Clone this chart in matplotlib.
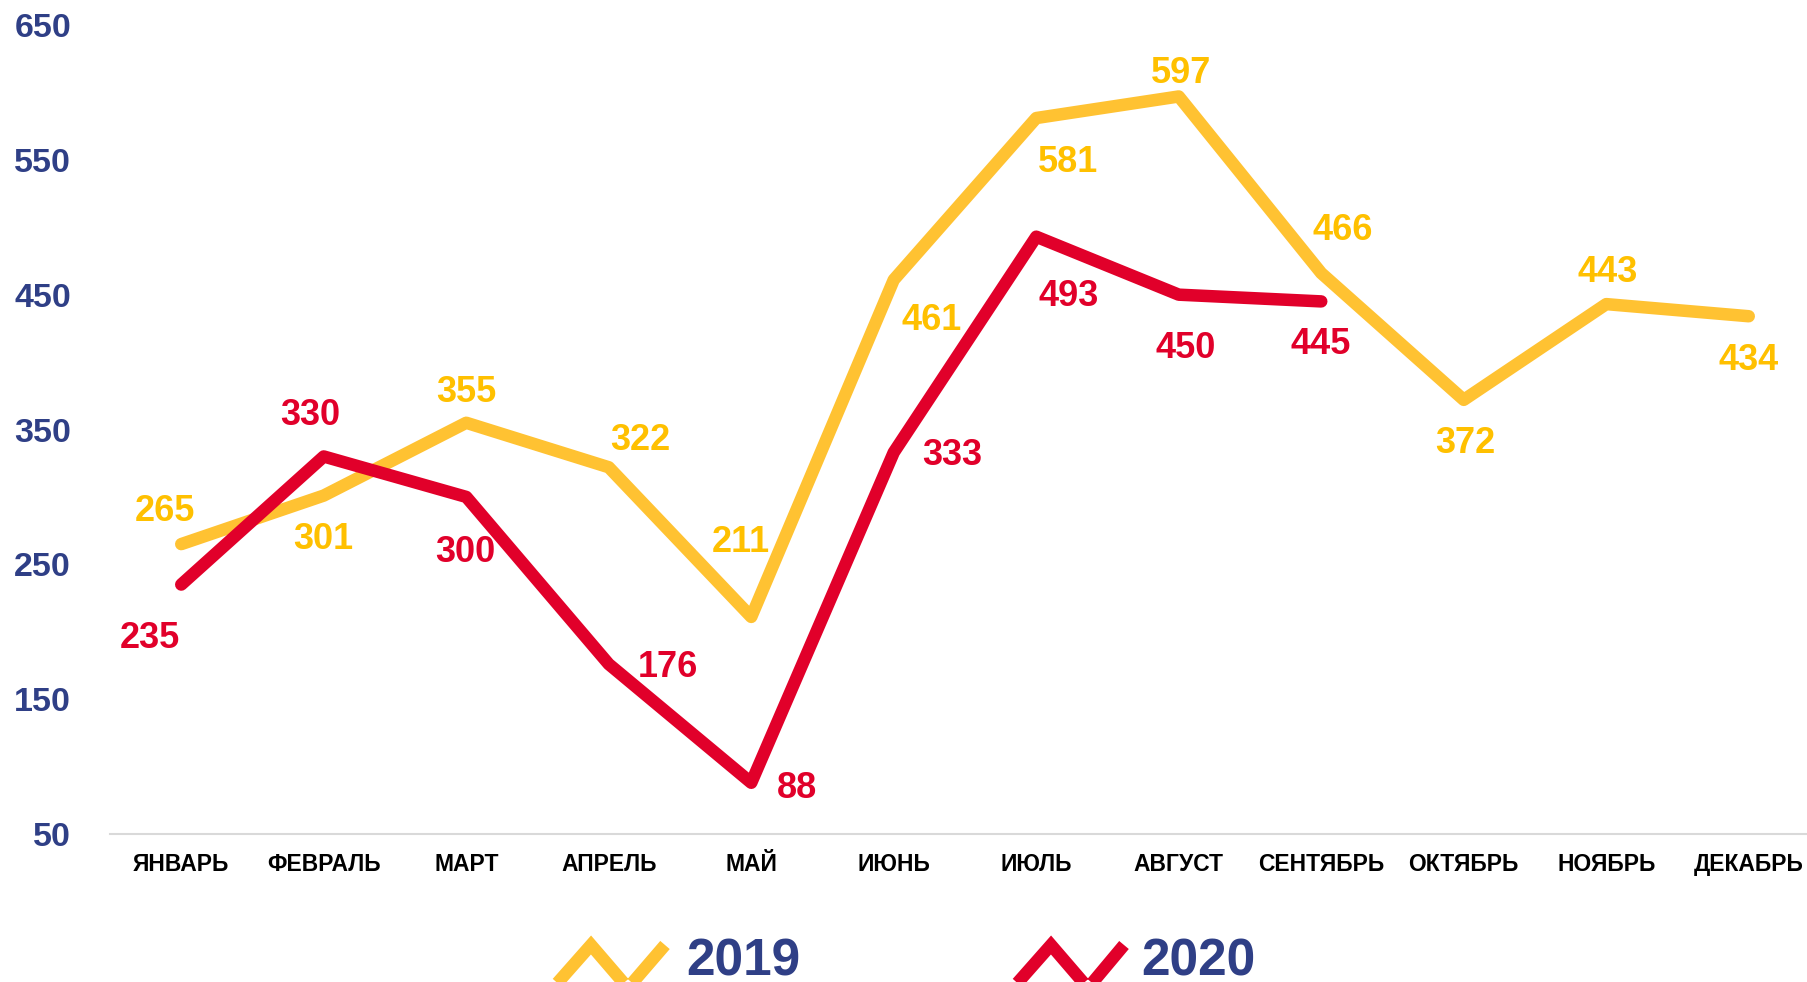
import matplotlib
matplotlib.use("Agg")
import matplotlib.pyplot as plt
from matplotlib.lines import Line2D

months = ["ЯНВАРЬ", "ФЕВРАЛЬ", "МАРТ", "АПРЕЛЬ", "МАЙ", "ИЮНЬ",
          "ИЮЛЬ", "АВГУСТ", "СЕНТЯБРЬ", "ОКТЯБРЬ", "НОЯБРЬ", "ДЕКАБРЬ"]
values_2019 = [265, 301, 355, 322, 211, 461, 581, 597, 466, 372, 443, 434]
values_2020 = [235, 330, 300, 176, 88, 333, 493, 450, 445]
yticks = [50, 150, 250, 350, 450, 550, 650]

# label offsets (pixels)
off_2019 = [(-16, 33), (0, -44), (0, 30), (32, 27), (-10, 74), (38, -41),
            (32, -44), (2, 23), (21, 43), (2, -44), (1, 32), (0, -44)]
off_2020 = [(-31, -54), (-13, 41), (-1, -56), (59, -3), (46, -6), (58, -3),
            (32, -60), (7, -54), (-1, -43)]

YEL_LINE = "#FFC232"
YEL_TEXT = "#FFC000"
RED = "#E1002A"
NAVY = "#2F3F86"

plt.rcParams['font.family'] = ['Liberation Sans', 'DejaVu Sans']
fig = plt.figure(figsize=(18.07, 9.82), dpi=100)
ax = fig.add_axes([110/1807, 1-834/982, 1710/1807, (834-25)/982])

x19 = list(range(len(values_2019)))
x20 = list(range(len(values_2020)))
ax.plot(x19, values_2019, color=YEL_LINE, lw=9, solid_capstyle='round',
        solid_joinstyle='round', zorder=2)
ax.plot(x20, values_2020, color=RED, lw=9, solid_capstyle='round',
        solid_joinstyle='round', zorder=3)

for xi, v, o in zip(x19, values_2019, off_2019):
    ax.annotate(str(v), (xi, v), xytext=o, textcoords='offset pixels',
                ha='center', va='center', fontsize=26, fontweight='bold',
                color=YEL_TEXT, zorder=4)
for xi, v, o in zip(x20, values_2020, off_2020):
    ax.annotate(str(v), (xi, v), xytext=o, textcoords='offset pixels',
                ha='center', va='center', fontsize=26, fontweight='bold',
                color=RED, zorder=4)

ax.set_xlim(-0.5, 11.5)
ax.set_ylim(50, 650)
ax.set_xticks(range(len(months)))
ax.set_xticklabels(months, fontsize=16.5, fontweight='bold', color='black')
ax.set_yticks(yticks)
ax.set_yticklabels([str(t) for t in yticks], fontsize=24.5, fontweight='bold',
                   color=NAVY)
ax.tick_params(axis='both', length=0)
ax.tick_params(axis='x', pad=14)
ax.tick_params(axis='y', pad=28)
for s in ['top', 'right', 'left']:
    ax.spines[s].set_visible(False)
ax.spines['bottom'].set_color('#D9D9D9')
ax.spines['bottom'].set_linewidth(1.5)
ax.set_facecolor('white')

# legend
def W(px):
    return px / 1807
def H(py):
    return 1 - py / 982

for xs, col, label, tx in [((553, 591, 628, 665), YEL_LINE, "2019", 686),
                           ((1013, 1051, 1088, 1124), RED, "2020", 1141)]:
    ys = (988, 945, 988, 945)
    fig.add_artist(Line2D([W(v) for v in xs], [H(v) for v in ys], color=col,
                          lw=9, solid_joinstyle='miter', solid_capstyle='butt'))
    fig.text(W(tx), H(976), label, fontsize=37, fontweight='bold', color=NAVY,
             ha='left', va='baseline')

fig.savefig("out.png", dpi=100, facecolor='white')
